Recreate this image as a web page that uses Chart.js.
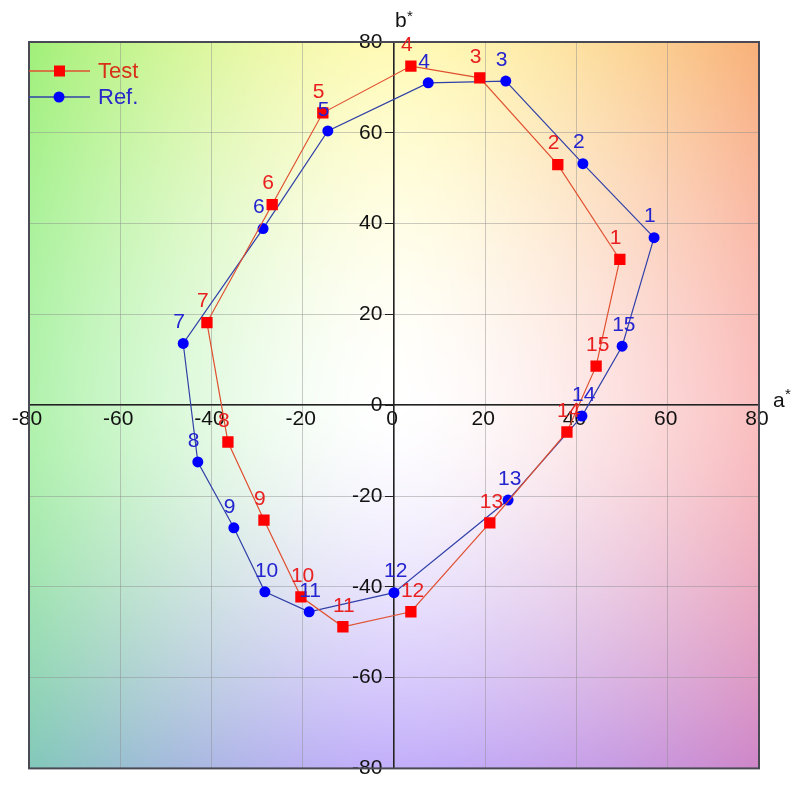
<!DOCTYPE html>
<html><head><meta charset="utf-8">
<script src="https://cdn.jsdelivr.net/npm/chart.js@4/dist/chart.umd.min.js"></script>
<style>html,body{margin:0;padding:0;background:#fff;}canvas{display:block;}</style>
</head><body>
<canvas id="c" width="801" height="786"></canvas>
<script>
// ---- data ----
const pointLabels = ['1','2','3','4','5','6','7','8','9','10','11','12','13','14','15'];
const testA = [49.5, 35.9, 18.8, 3.7, -15.6, -26.7, -41.0, -36.4, -28.5, -20.4, -11.2, 3.7, 21.0, 37.9, 44.3];
const testB = [32.1, 53.0, 72.1, 74.7, 64.4, 44.2, 18.2, -8.1, -25.3, -42.2, -48.8, -45.5, -25.9, -5.9, 8.6];
const refA  = [57.0, 41.4, 24.5, 7.5, -14.5, -28.7, -46.2, -43.0, -35.1, -28.3, -18.6, 0.0, 25.0, 41.2, 50.0];
const refB  = [36.9, 53.2, 71.4, 71.0, 60.4, 38.9, 13.6, -12.5, -27.0, -41.1, -45.5, -41.3, -20.9, -2.4, 13.0];
const tickValues = [-80, -60, -40, -20, 0, 20, 40, 60, 80];
const seriesNames = ['Test', 'Ref.'];
const axisTitleX = 'a', axisTitleY = 'b', axisStar = '*';

const FONT = "'Liberation Sans', Arial, sans-serif";

function closedLoop(a, b) {
  const pts = a.map((x, i) => ({x: x, y: b[i]}));
  pts.push({x: a[0], y: b[0]});
  return pts;
}
function radii(n, r) { const arr = new Array(n).fill(r); arr.push(0); return arr; }

// background colour field (approximate CIELAB a*/b* plane)
const CORN = {
  '-1,1': [160, 240, 120], '0,1': [255, 250, 180], '1,1': [248, 176, 120],
  '-1,0': [176, 242, 172], '0,0': [255, 255, 255], '1,0': [250, 190, 190],
  '-1,-1': [130, 200, 186], '0,-1': [194, 174, 250], '1,-1': [206, 134, 200]
};
function ease(s) { return Math.pow(Math.min(1, Math.abs(s)), 1.55); }
function colorAt(u, v) {
  const qx = u >= 0 ? 1 : -1, qy = v >= 0 ? 1 : -1;
  const s = ease(u), t = ease(v);
  const c0 = CORN['0,0'], cx = CORN[qx + ',0'], cy = CORN['0,' + qy], cxy = CORN[qx + ',' + qy];
  const out = [0, 0, 0];
  for (let k = 0; k < 3; k++) {
    out[k] = (1 - s) * (1 - t) * c0[k] + s * (1 - t) * cx[k] + (1 - s) * t * cy[k] + s * t * cxy[k];
  }
  return out;
}

const bgPlugin = {
  id: 'labBg',
  beforeDraw(chart) {
    const {ctx, chartArea, scales} = chart;
    const left = Math.round(chartArea.left), top = Math.round(chartArea.top);
    const w = Math.round(chartArea.right) - left, h = Math.round(chartArea.bottom) - top;
    const img = ctx.createImageData(w, h);
    for (let j = 0; j < h; j++) {
      const v = scales.y.getValueForPixel(top + j + 0.5) / 80;
      for (let i = 0; i < w; i++) {
        const u = scales.x.getValueForPixel(left + i + 0.5) / 80;
        const c = colorAt(u, v);
        const p = (j * w + i) * 4;
        img.data[p] = c[0]; img.data[p + 1] = c[1]; img.data[p + 2] = c[2]; img.data[p + 3] = 255;
      }
    }
    ctx.putImageData(img, left, top);
  },
  beforeDatasetsDraw(chart) {
    const {ctx, chartArea} = chart;
    ctx.save();
    ctx.strokeStyle = '#4a4a55';
    ctx.lineWidth = 2;
    ctx.strokeRect(chartArea.left, chartArea.top, chartArea.right - chartArea.left, chartArea.bottom - chartArea.top);
    ctx.restore();
  },
  afterDatasetsDraw(chart) {
    const {ctx} = chart;
    ctx.save();
    ctx.font = '21px ' + FONT;
    ctx.textAlign = 'left';
    ctx.textBaseline = 'middle';
    const colors = ['#e82020', '#2424d0'];
    chart.data.datasets.forEach((ds, di) => {
      const meta = chart.getDatasetMeta(di);
      ctx.fillStyle = colors[di];
      pointLabels.forEach((lab, i) => {
        const el = meta.data[i];
        ctx.fillText(lab, el.x - 10, el.y - 21);
      });
    });
    ctx.restore();
  },
  afterDraw(chart) {
    const {ctx, chartArea, scales} = chart;
    ctx.save();
    // axis titles
    const x0 = scales.x.getPixelForValue(0);
    ctx.fillStyle = '#111';
    ctx.textAlign = 'left';
    ctx.textBaseline = 'alphabetic';
    ctx.font = '21px ' + FONT;
    ctx.fillText(axisTitleY, x0 + 1, 27);
    ctx.fillText(axisTitleX, chartArea.right + 14, 407);
    ctx.font = '15px ' + FONT;
    ctx.fillText(axisStar, x0 + 13, 21);
    ctx.fillText(axisStar, chartArea.right + 26, 399);
    // legend
    const items = [
      {name: seriesNames[0], y: 71, line: '#e05030', fill: '#ff0000', text: '#d83018', shape: 'rect'},
      {name: seriesNames[1], y: 97, line: '#3040a8', fill: '#0000ff', text: '#2828c8', shape: 'circle'}
    ];
    items.forEach(it => {
      ctx.strokeStyle = it.line;
      ctx.lineWidth = 1.3;
      ctx.beginPath();
      ctx.moveTo(chartArea.left, it.y);
      ctx.lineTo(chartArea.left + 61, it.y);
      ctx.stroke();
      ctx.fillStyle = it.fill;
      if (it.shape === 'rect') {
        ctx.fillRect(chartArea.left + 25, it.y - 5.5, 11, 11);
      } else {
        ctx.beginPath();
        ctx.arc(chartArea.left + 30, it.y, 5.5, 0, Math.PI * 2);
        ctx.fill();
      }
      ctx.fillStyle = it.text;
      ctx.font = '22px ' + FONT;
      ctx.textBaseline = 'middle';
      ctx.fillText(it.name, chartArea.left + 69, it.y + 1);
    });
    ctx.restore();
  }
};

const tickSetter = s => { s.ticks = tickValues.map(v => ({value: v})); };

new Chart(document.getElementById('c'), {
  type: 'scatter',
  data: {
    datasets: [
      {
        label: seriesNames[0],
        data: closedLoop(testA, testB),
        showLine: true,
        borderColor: '#e05030',
        borderWidth: 1.2,
        pointStyle: 'rect',
        pointRadius: radii(testA.length, 8),
        pointBackgroundColor: '#ff0000',
        pointBorderColor: '#ff0000',
        pointBorderWidth: 0,
        tension: 0
      },
      {
        label: seriesNames[1],
        data: closedLoop(refA, refB),
        showLine: true,
        borderColor: '#3040a8',
        borderWidth: 1.2,
        pointStyle: 'circle',
        pointRadius: radii(refA.length, 5.5),
        pointBackgroundColor: '#0000ff',
        pointBorderColor: '#0000ff',
        pointBorderWidth: 0,
        tension: 0
      }
    ]
  },
  options: {
    responsive: false,
    animation: false,
    layout: {padding: {left: 29, right: 42, top: 42, bottom: 16}},
    plugins: {legend: {display: false}, tooltip: {enabled: false}},
    scales: {
      x: {
        type: 'linear', min: -80, max: 80, position: {y: 0},
        afterBuildTicks: tickSetter,
        ticks: {font: {family: FONT, size: 21}, color: '#111', padding: 1, labelOffset: -2, autoSkip: false, maxRotation: 0},
        grid: {color: 'rgba(140,140,140,0.45)', lineWidth: 1, drawTicks: false},
        border: {display: true, color: '#222', width: 1.5}
      },
      y: {
        type: 'linear', min: -80, max: 80, position: {x: 0},
        afterBuildTicks: tickSetter,
        ticks: {font: {family: FONT, size: 21}, color: '#111', padding: 5, autoSkip: false,
                callback: v => String(v) + '  '},
        grid: {color: 'rgba(140,140,140,0.45)', lineWidth: 1, drawTicks: true, tickLength: 8, tickColor: '#222'},
        border: {display: true, color: '#222', width: 1.5}
      }
    }
  },
  plugins: [bgPlugin]
});
</script>
</body></html>
